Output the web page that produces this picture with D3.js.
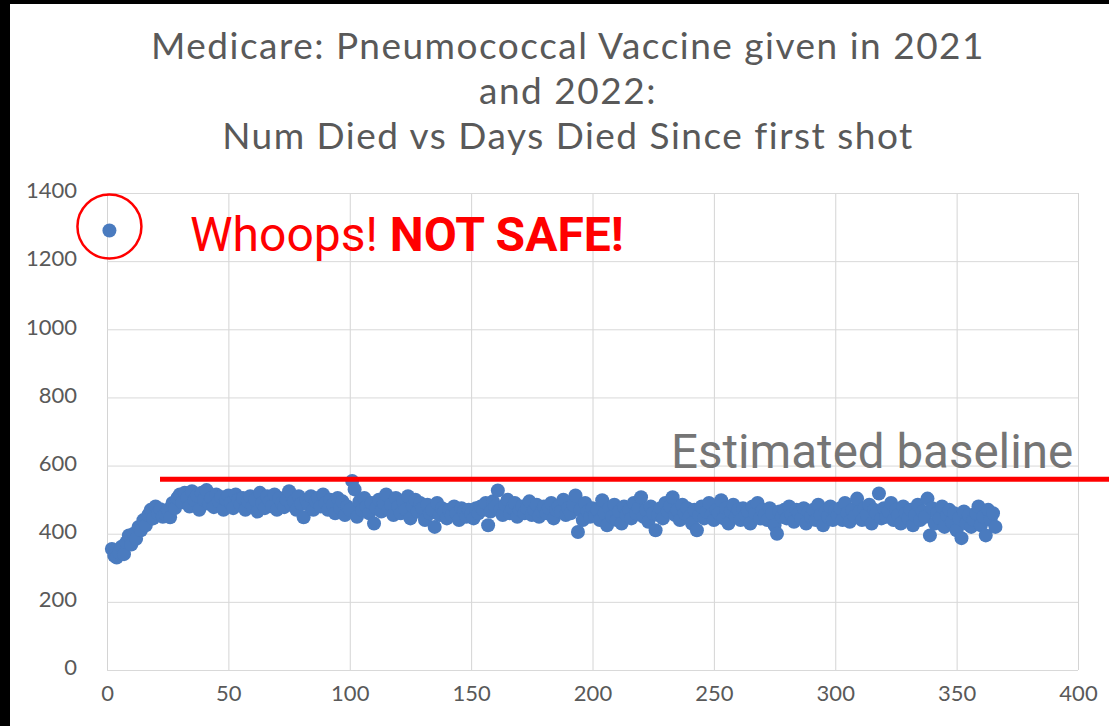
<!DOCTYPE html>
<html>
<head>
<meta charset="utf-8">
<script src="https://cdn.jsdelivr.net/npm/d3@7"></script>
<style>
  body { margin: 0; background: #000; }
  svg { display: block; }
  .tick text { font-family: Lato, "Open Sans", sans-serif; font-size: 22px; fill: #595959; }
  .title { font-family: Lato, "Open Sans", sans-serif; font-size: 37px; fill: #595959; letter-spacing: 1.5px; }
</style>
</head>
<body>
<svg id="chart" width="1109" height="726"></svg>
<script>
// day 1 is the outlier, then one value per day up to day 366
const deaths = [
  1290, 355, 335, 330, 345, 362, 340, 375, 395, 368,
  400, 385, 420, 410, 440, 425, 455, 470, 445, 480,
  460, 472, 450, 458, 470, 448, 490, 475, 505, 515,
  492, 520, 505, 480, 525, 498, 512, 470, 520, 500,
  528, 488, 505, 478, 515, 495, 508, 470, 500, 512,
  490, 475, 515, 500, 485, 505, 470, 495, 510, 480,
  500, 465, 520, 490, 475, 510, 495, 480, 515, 470,
  505, 490, 478, 500, 525, 485, 495, 470, 510, 488,
  448, 500, 485, 510, 470, 495, 505, 480, 515, 490,
  470, 500, 485, 460, 505, 475, 495, 455, 480, 470,
  555, 530, 450, 495, 470, 505, 480, 460, 490, 430,
  475, 500, 465, 490, 515, 470, 485, 455, 505, 480,
  460, 495, 470, 510, 445, 480, 500, 465, 490, 475,
  440, 485, 460, 470, 420, 490, 455, 475, 465, 445,
  470, 455, 480, 460, 440, 475, 465, 450, 470, 458,
  445, 475, 460, 480, 470, 490, 425, 465, 495, 480,
  527, 470, 455, 485, 500, 460, 475, 490, 450, 470,
  480, 460, 475, 495, 455, 470, 485, 450, 465, 480,
  460, 475, 490, 445, 470, 480, 465, 500, 455, 475,
  460, 485, 512, 405, 470, 440, 490, 465, 450, 475,
  455, 470, 440, 498, 460, 425, 475, 450, 485, 440,
  465, 430, 480, 455, 470, 445, 490, 460, 475, 507,
  450, 470, 435, 480, 460, 410, 455, 475, 445, 490,
  465, 480, 507, 455, 470, 440, 485, 460, 475, 450,
  430, 470, 410, 455, 480, 445, 465, 490, 455, 440,
  470, 460, 498, 445, 475, 430, 465, 485, 450, 470,
  440, 475, 455, 465, 430, 480, 460, 490, 445, 470,
  455, 440, 475, 460, 425, 400, 465, 450, 470, 445,
  480, 455, 435, 470, 460, 445, 475, 430, 465, 450,
  470, 440, 485, 455, 425, 465, 450, 480, 440, 470,
  455, 475, 440, 490, 460, 435, 470, 450, 503, 465,
  440, 475, 455, 485, 430, 470, 460, 518, 445, 475,
  450, 465, 490, 440, 470, 455, 430, 480, 460, 445,
  470, 425, 455, 485, 440, 465, 450, 503, 395, 475,
  430, 460, 445, 480, 420, 455, 470, 435, 460, 410,
  445, 387, 465, 430, 455, 420, 440, 460, 480, 425,
  450, 395, 470, 440, 460, 420
]
const xTicks = [0, 50, 100, 150, 200, 250, 300, 350, 400]
const yTicks = [0, 200, 400, 600, 800, 1000, 1200, 1400]
const titleLines = [
  'Medicare: Pneumococcal Vaccine given in 2021',
  'and 2022:',
  'Num Died vs Days Died Since first shot'
]
const baselineValue = 560

const svg = d3.select('#chart')
const width = +svg.attr('width')
const height = +svg.attr('height')

// white page, black strip left and top
svg.append('rect')
  .attr('x', 10).attr('y', 4)
  .attr('width', width - 10).attr('height', height - 4)
  .attr('fill', '#fff')

const xScale = d3.scaleLinear().domain([0, 400]).range([107, 1078])
const yScale = d3.scaleLinear().domain([0, 1400]).range([670, 193])

const xAxis = d3.axisBottom(xScale)
  .tickValues(xTicks)
  .tickFormat(d3.format('d'))
  .tickSize(-(yScale(0) - yScale(1400)))
  .tickPadding(20)

const yAxis = d3.axisLeft(yScale)
  .tickValues(yTicks)
  .tickFormat(d3.format('d'))
  .tickSize(-(xScale(400) - xScale(0)))
  .tickPadding(30)

const xAxisG = svg.append('g')
  .attr('transform', `translate(0,${yScale(0)})`)
  .call(xAxis)
xAxisG.select('.domain').remove()
xAxisG.selectAll('.tick line').attr('stroke', '#d4d4d4')
xAxisG.selectAll('.tick text').attr('dy', '0.5em')

const yAxisG = svg.append('g')
  .attr('transform', `translate(${xScale(0)},0)`)
  .call(yAxis)
yAxisG.select('.domain').remove()
yAxisG.selectAll('.tick line').attr('stroke', '#d9d9d9')
yAxisG.selectAll('.tick text').attr('dy', '0.22em')

// title
svg.append('text')
  .attr('class', 'title')
  .attr('text-anchor', 'middle')
  .selectAll('tspan')
  .data(titleLines)
  .enter()
  .append('tspan')
  .attr('x', 568)
  .attr('y', (d, i) => 59 + i * 45)
  .text(d => d)

// points
svg.append('g')
  .selectAll('circle')
  .data(deaths)
  .enter()
  .append('circle')
  .attr('cx', (d, i) => xScale(i + 1))
  .attr('cy', d => yScale(d))
  .attr('r', 7)
  .attr('fill', '#4a7bbf')

// annotations
svg.append('circle')
  .attr('cx', xScale(1))
  .attr('cy', yScale(deaths[0]) - 4)
  .attr('r', 32)
  .attr('fill', 'none')
  .attr('stroke', '#ff0000')
  .attr('stroke-width', 2.5)

const whoops = svg.append('text')
  .attr('x', 190)
  .attr('y', 251)
  .attr('fill', '#ff0000')
  .style('font-family', 'Roboto, sans-serif')
  .style('font-size', '48px')
whoops.append('tspan').text('Whoops! ')
whoops.append('tspan').style('font-weight', 'bold').text('NOT SAFE!')

svg.append('line')
  .attr('x1', 160).attr('x2', width)
  .attr('y1', yScale(baselineValue)).attr('y2', yScale(baselineValue))
  .attr('stroke', '#ff0000')
  .attr('stroke-width', 5)

svg.append('text')
  .attr('x', 671)
  .attr('y', 468)
  .attr('fill', '#757575')
  .style('font-family', 'Roboto, sans-serif')
  .style('font-size', '47.5px')
  .text('Estimated baseline')
</script>
</body>
</html>
